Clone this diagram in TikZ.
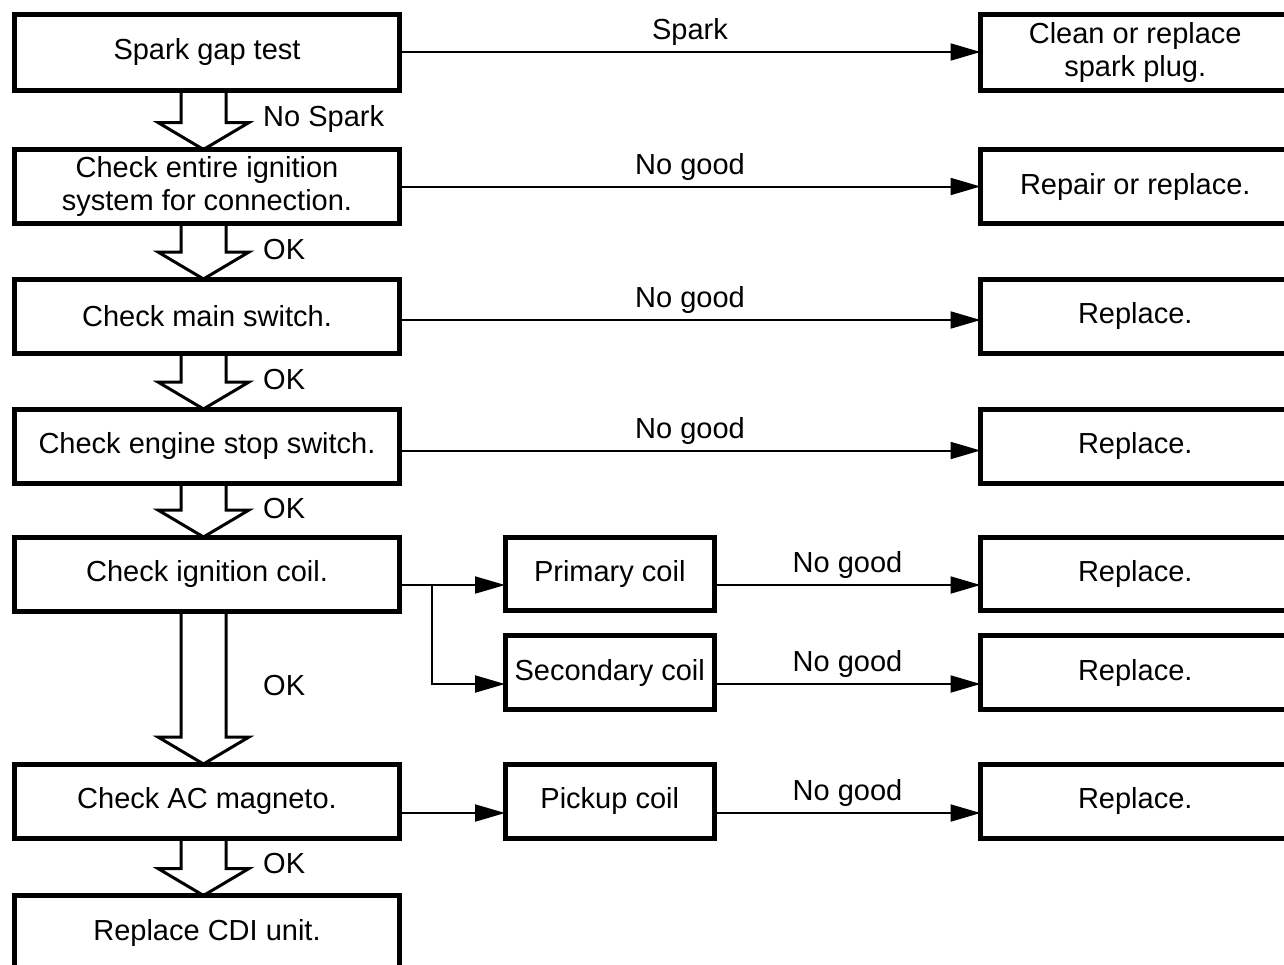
\documentclass[tikz,border=0pt]{standalone}
\usepackage{fontspec}
\setmainfont{Liberation Sans}
\usetikzlibrary{arrows.meta,calc}

\tikzset{
  box/.style={draw, line width=5pt, inner sep=0pt, outer sep=0pt, align=center,
              font=\fontsize{29}{33.5}\selectfont},
  leftbox/.style={box, minimum width=385pt, minimum height=74pt},
  midbox/.style={box, minimum width=209.5pt, minimum height=74pt},
  rightbox/.style={box, minimum width=309.5pt, minimum height=74pt},
  conn/.style={line width=2pt, -{Triangle[length=30pt,width=17pt]}},
  hollowarrow/.style={line width=3pt, line join=miter},
  lbl/.style={font=\fontsize{29}{33.5}\selectfont, inner sep=0pt},
}

% open block arrow from the bottom of one box to the top of the next
\newcommand{\blockarrow}[2]{%
  \draw[hollowarrow]
    ($(#1.south)+(-26,0)$) -- ($(#2.north)+(-26,-27)$) --
    ($(#2.north)+(-49,-27)$) -- ($(#2.north)+(-3.5,0)$) --
    ($(#2.north)+(42,-27)$) -- ($(#2.north)+(19,-27)$) --
    ($(#1.south)+(19,0)$);
}

\begin{document}
\begin{tikzpicture}[x=1pt,y=-1pt]
\useasboundingbox (0,0) rectangle (1284,964);
\clip (0,0) rectangle (1284,964);

% main column
\node[leftbox, minimum height=76pt] (b1) at (207,52.5) {Spark gap test};
\node[leftbox] (b2) at (207,186.5) {Check entire ignition\\system for connection.};
\node[leftbox] (b3) at (207,316) {Check main switch.};
\node[leftbox] (b4) at (207,446) {Check engine stop switch.};
\node[leftbox] (b5) at (207,574) {Check ignition coil.};
\node[leftbox] (b6) at (207,801) {Check AC magneto.};
\node[leftbox] (b7) at (207,932.5) {Replace CDI unit.};

% coil checks
\node[midbox, minimum height=73pt] (p1) at (609.75,574) {Primary coil};
\node[midbox] (p2) at (609.75,672.5) {Secondary coil};
\node[midbox] (p3) at (609.75,801) {Pickup coil};

% remedies
\node[rightbox, minimum height=76pt] (r1) at (1135.25,52.5) {Clean or replace\\spark plug.};
\node[rightbox] (r2) at (1135.25,186.5) {Repair or replace.};
\node[rightbox] (r3) at (1135.25,316) {Replace.};
\node[rightbox] (r4) at (1135.25,446) {Replace.};
\node[rightbox, minimum height=73pt] (r5) at (1135.25,574) {Replace.};
\node[rightbox] (r6) at (1135.25,672.5) {Replace.};
\node[rightbox] (r7) at (1135.25,801) {Replace.};

% block arrows down the main column
\blockarrow{b1}{b2}
\blockarrow{b2}{b3}
\blockarrow{b3}{b4}
\blockarrow{b4}{b5}
\blockarrow{b5}{b6}
\blockarrow{b6}{b7}

\node[lbl, anchor=base west] (ok0) at (263,126) {No Spark};
\node[lbl, anchor=base west] (ok1) at (263,259) {OK};
\node[lbl, anchor=base west] (ok2) at (263,389) {OK};
\node[lbl, anchor=base west] (ok3) at (263,518) {OK};
\node[lbl, anchor=base west] (ok4) at (263,695) {OK};
\node[lbl, anchor=base west] (ok5) at (263,873) {OK};

% branches to the right
\draw[conn] ([yshift=0.5pt]b1.east) -- node[lbl, anchor=base, yshift=12.5pt] (t1) {Spark} ([yshift=0.5pt]r1.west);
\draw[conn] (b2.east) -- node[lbl, anchor=base, yshift=12.5pt] (t2) {No good} (r2.west);
\draw[conn] ([yshift=-4pt]b3.east) -- node[lbl, anchor=base, yshift=12.5pt] (t3) {No good} ([yshift=-4pt]r3.west);
\draw[conn] ([yshift=-4.5pt]b4.east) -- node[lbl, anchor=base, yshift=12.5pt] (t4) {No good} ([yshift=-4.5pt]r4.west);

% ignition coil: primary and secondary
\coordinate (split) at (432,585);
\draw[conn] ([yshift=-11pt]b5.east) -- ([yshift=-11pt]p1.west);
\draw[conn] (split) |- ([yshift=-11.5pt]p2.west);
\draw[conn] ([yshift=-11pt]p1.east) -- node[lbl, anchor=base, yshift=12.5pt] (t5) {No good} ([yshift=-11pt]r5.west);
\draw[conn] ([yshift=-11.5pt]p2.east) -- node[lbl, anchor=base, yshift=12.5pt] (t6) {No good} ([yshift=-11.5pt]r6.west);

% AC magneto: pickup coil
\draw[conn] ([yshift=-12pt]b6.east) -- ([yshift=-12pt]p3.west);
\draw[conn] ([yshift=-12pt]p3.east) -- node[lbl, anchor=base, yshift=12.5pt] (t7) {No good} ([yshift=-12pt]r7.west);
\end{tikzpicture}
\end{document}
